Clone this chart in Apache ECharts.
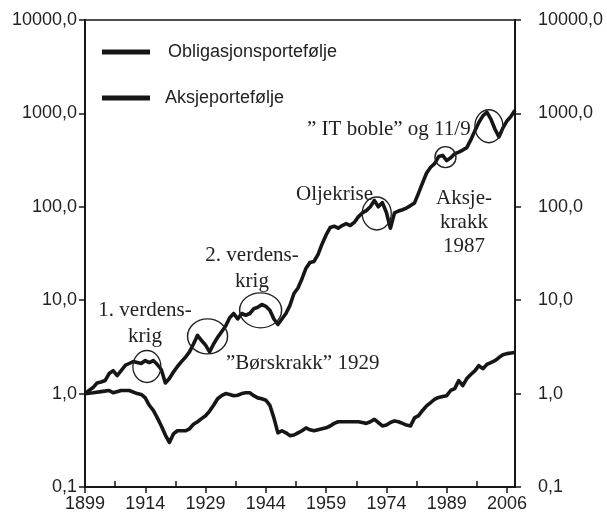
<!DOCTYPE html>
<html>
<head>
<meta charset="utf-8">
<script src="https://cdn.jsdelivr.net/npm/echarts@6/dist/echarts.min.js"></script>
<style>
  html, body { margin: 0; padding: 0; background: #fff; }
  #chart { width: 607px; height: 519px; }
</style>
</head>
<body>
<div id="chart"></div>
<script>
// year axis runs as offset from the first year, so ticks can start at 0
var startYear = 1899
var endYear = 2006

var aksjeYears = [1899, 1900, 1901, 1902, 1903, 1904, 1905, 1906, 1907, 1908, 1909, 1910,
  1911, 1912, 1913, 1914, 1915, 1916, 1917, 1918, 1919, 1920, 1921, 1922, 1923, 1924,
  1925, 1926, 1927, 1928, 1929, 1930, 1931, 1932, 1933, 1934, 1935, 1936, 1937, 1938,
  1939, 1940, 1941, 1942, 1943, 1944, 1945, 1946, 1947, 1948, 1949, 1950, 1951, 1952,
  1953, 1954, 1955, 1956, 1957, 1958, 1959, 1960, 1961, 1962, 1963, 1964, 1965, 1966,
  1967, 1968, 1969, 1970, 1971, 1972, 1973, 1974, 1975, 1976, 1977, 1978, 1979, 1980,
  1981, 1982, 1983, 1984, 1985, 1986, 1987, 1988, 1989, 1990, 1991, 1992, 1993, 1994,
  1995, 1996, 1997, 1998, 1999, 2000, 2001, 2002, 2003, 2004, 2005, 2006]
var aksjeValues = [1.0, 1.08, 1.16, 1.3, 1.33, 1.38, 1.64, 1.76, 1.56, 1.76, 2.0, 2.1,
  2.2, 2.15, 2.1, 2.26, 2.15, 2.26, 2.05, 1.8, 1.3, 1.45, 1.7, 1.95, 2.2, 2.45,
  2.8, 3.4, 4.2, 3.7, 3.3, 2.8, 3.4, 4.0, 4.6, 5.3, 6.5, 7.2, 6.3, 7.2,
  6.9, 7.2, 8.1, 8.4, 9.0, 8.6, 7.8, 6.3, 5.5, 6.3, 7.2, 8.8, 11.8, 13.5,
  17, 22, 25.4, 26, 31, 40, 50, 60, 62, 59, 63, 66, 63, 68,
  78, 86, 91, 100, 117, 100, 111, 87, 59, 86, 90, 93, 97, 103,
  110, 140, 180, 230, 265, 290, 345, 355, 312, 335, 370, 385, 405, 430,
  520, 650, 800, 940, 1030, 870, 680, 560, 700, 830, 930, 1080]

var obligYears = [1899, 1901, 1903, 1905, 1906, 1908, 1910, 1912, 1913, 1914, 1915, 1916,
  1917, 1918, 1919, 1920, 1921, 1922, 1923, 1924, 1925, 1926, 1927, 1928, 1929, 1930,
  1931, 1932, 1933, 1934, 1935, 1936, 1937, 1938, 1939, 1940, 1941, 1942, 1943, 1944,
  1945, 1946, 1947, 1948, 1949, 1950, 1951, 1952, 1953, 1954, 1955, 1956, 1957, 1958,
  1959, 1960, 1961, 1962, 1963, 1964, 1965, 1966, 1967, 1968, 1969, 1970, 1971, 1972,
  1973, 1974, 1975, 1976, 1977, 1978, 1979, 1980, 1981, 1982, 1983, 1984, 1985, 1986,
  1987, 1988, 1989, 1990, 1991, 1992, 1993, 1994, 1995, 1996, 1997, 1998, 1999, 2000,
  2001, 2002, 2003, 2004, 2005, 2006]
var obligValues = [1.0, 1.02, 1.05, 1.08, 1.02, 1.08, 1.08, 1.0, 0.98, 0.9, 0.75, 0.66,
  0.55, 0.45, 0.36, 0.30, 0.37, 0.40, 0.40, 0.40, 0.42, 0.47, 0.50, 0.54, 0.58, 0.65,
  0.75, 0.88, 0.95, 1.0, 0.98, 0.95, 0.96, 1.0, 1.02, 1.02, 0.95, 0.9, 0.88, 0.85,
  0.75, 0.55, 0.38, 0.40, 0.38, 0.355, 0.36, 0.38, 0.40, 0.43, 0.41, 0.40, 0.41, 0.42,
  0.43, 0.45, 0.48, 0.50, 0.50, 0.50, 0.50, 0.50, 0.50, 0.49, 0.48, 0.50, 0.53, 0.49,
  0.45, 0.46, 0.49, 0.51, 0.50, 0.48, 0.46, 0.45, 0.55, 0.58, 0.66, 0.74, 0.80, 0.87,
  0.91, 0.93, 0.95, 1.08, 1.13, 1.38, 1.22, 1.45, 1.6, 1.75, 1.99, 1.85, 2.05, 2.15,
  2.25, 2.43, 2.6, 2.68, 2.72, 2.75]

// labelled ticks every 15 years, last one printed as 2006 in the original
var xTickYears = [1899, 1914, 1929, 1944, 1959, 1974, 1989, 2004]
var xTickLabels = ['1899', '1914', '1929', '1944', '1959', '1974', '1989', '2006']
var xHalfTickYears = [1906.5, 1921.5, 1936.5, 1951.5, 1966.5, 1981.5, 1996.5]

// ringed events on the share line
var eventYears = [1914.4, 1929.5, 1942.7, 1971.6, 1988.7, 1999.5]
var eventValues = [1.95, 4.1, 7.8, 85, 340, 730]

var black = '#161616'
var sans = '"Liberation Sans", Arial, sans-serif'
var serif = '"Liberation Serif", "Times New Roman", serif'

function toPairs(years, values) {
  return years.map(function (y, i) { return [y - startYear, values[i]] })
}
function offsets(years) {
  return years.map(function (y) { return y - startYear })
}

var ringSizes = [[28, 32], [40, 35], [42, 35], [29, 33], [21, 21], [28, 33]]
var rings = eventYears.map(function (y, i) {
  return { coord: [y - startYear, eventValues[i]], symbolSize: ringSizes[i] }
})

function yLabel(v) {
  return Number(v).toFixed(1).replace('.', ',')
}

var yBase = {
  type: 'log',
  logBase: 10,
  min: 0.1,
  max: 10000,
  axisLine: { show: true, onZero: false, lineStyle: { color: black, width: 2 } },
  axisTick: { show: true, length: 6, lineStyle: { color: black, width: 1.5 } },
  splitLine: { show: false },
  minorTick: { show: false }
}

var chart = echarts.init(document.getElementById('chart'))
chart.setOption({
  animation: false,
  backgroundColor: '#fff',
  grid: { left: 85, right: 92, top: 20, bottom: 32 },
  legend: {
    orient: 'vertical',
    left: 97,
    top: 38,
    icon: 'rect',
    itemWidth: 48,
    itemHeight: 5,
    itemGap: 28,
    textStyle: { fontSize: 18, fontFamily: sans, color: '#222' },
    data: [
      { name: 'Obligasjonsportefølje', textStyle: { padding: [0, 0, 0, 13] } },
      { name: 'Aksjeportefølje', textStyle: { padding: [0, 0, 0, 10] } }
    ]
  },
  xAxis: [
    {
      type: 'value',
      min: 0,
      max: endYear - startYear,
      axisLine: { onZero: false, lineStyle: { color: black, width: 2 } },
      axisTick: { length: 6, customValues: offsets(xTickYears), lineStyle: { color: black, width: 1.5 } },
      axisLabel: {
        customValues: offsets(xTickYears),
        margin: 8,
        fontSize: 18,
        fontFamily: sans,
        color: '#222',
        formatter: function (v) {
          var i = offsets(xTickYears).indexOf(Math.round(v))
          return i < 0 ? '' : xTickLabels[i]
        }
      },
      splitLine: { show: false }
    },
    {
      // short ticks pointing inwards between the labelled ones
      type: 'value',
      position: 'bottom',
      min: 0,
      max: endYear - startYear,
      axisLine: { show: false, onZero: false },
      axisTick: { inside: true, length: 6, customValues: offsets(xHalfTickYears), lineStyle: { color: black, width: 1.5 } },
      axisLabel: { show: false },
      splitLine: { show: false }
    },
    {
      // top frame line
      type: 'value',
      position: 'top',
      min: 0,
      max: endYear - startYear,
      axisLine: { onZero: false, lineStyle: { color: black, width: 1.5 } },
      axisTick: { show: false },
      axisLabel: { show: false },
      splitLine: { show: false }
    }
  ],
  yAxis: [
    Object.assign({}, yBase, {
      position: 'left',
      axisLabel: { margin: 8, fontSize: 18, fontFamily: sans, color: '#222', formatter: yLabel }
    }),
    Object.assign({}, yBase, {
      position: 'right',
      axisLabel: { margin: 23, fontSize: 18, fontFamily: sans, color: '#222', formatter: yLabel }
    })
  ],
  series: [
    {
      name: 'Obligasjonsportefølje',
      type: 'line',
      data: toPairs(obligYears, obligValues),
      symbol: 'none',
      color: black,
      lineStyle: { color: black, width: 3.6, join: 'round' }
    },
    {
      name: 'Aksjeportefølje',
      type: 'line',
      data: toPairs(aksjeYears, aksjeValues),
      symbol: 'none',
      color: black,
      lineStyle: { color: black, width: 3.6, join: 'round' },
      markPoint: {
        silent: true,
        symbol: 'circle',
        label: { show: false },
        itemStyle: { color: 'rgba(0,0,0,0)', borderColor: '#222', borderWidth: 1.4 },
        data: rings
      }
    }
  ],
  graphic: [
    { type: 'text', x: 145, y: 323, style: { text: '1. verdens-\nkrig', font: '21px ' + serif, fill: '#222', align: 'center', verticalAlign: 'middle', lineHeight: 26 } },
    { type: 'text', x: 252, y: 268, style: { text: '2. verdens-\nkrig', font: '21px ' + serif, fill: '#222', align: 'center', verticalAlign: 'middle', lineHeight: 26 } },
    { type: 'text', x: 226, y: 363, style: { text: '\u201dBørskrakk\u201d 1929', font: '21px ' + serif, fill: '#222', align: 'left', verticalAlign: 'middle' } },
    { type: 'text', x: 296, y: 194, style: { text: 'Oljekrise', font: '21px ' + serif, fill: '#222', align: 'left', verticalAlign: 'middle' } },
    { type: 'text', x: 307, y: 129, style: { text: '\u201d IT boble\u201d og 11/9', font: '21px ' + serif, fill: '#222', align: 'left', verticalAlign: 'middle' } },
    { type: 'text', x: 464, y: 222, style: { text: 'Aksje-\nkrakk\n1987', font: '21px ' + serif, fill: '#222', align: 'center', verticalAlign: 'middle', lineHeight: 24 } }
  ]
})
</script>
</body>
</html>
